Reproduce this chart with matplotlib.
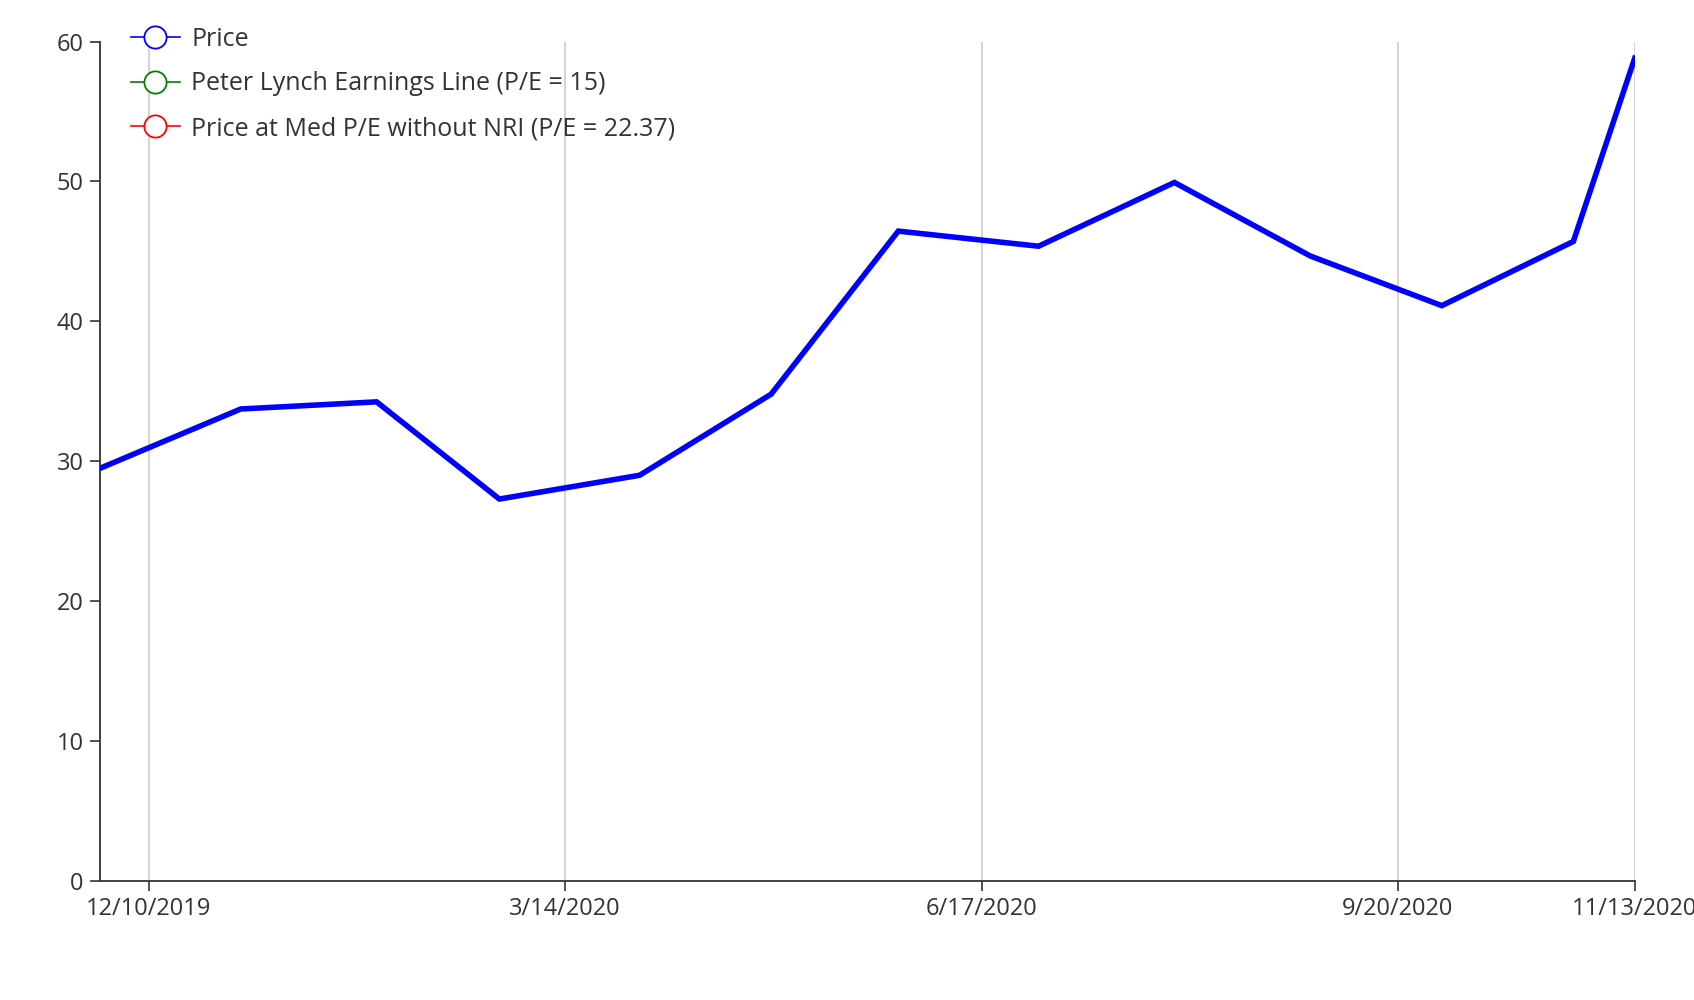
import datetime as dt
import matplotlib
matplotlib.use("Agg")
import matplotlib.pyplot as plt

# month-end closing prices
dates = ["2019-11-29", "2019-12-31", "2020-01-31", "2020-02-28", "2020-03-31",
         "2020-04-30", "2020-05-29", "2020-06-30", "2020-07-31", "2020-08-31",
         "2020-09-30", "2020-10-30", "2020-11-13"]
price = [29.49, 33.72, 34.23, 27.28, 28.98, 34.78, 46.44, 45.36, 49.92,
         44.66, 41.11, 45.7, 58.8]

# these two series are empty in the source chart
lynch_dates, lynch_values = [], []
med_pe_dates, med_pe_values = [], []

tick_dates = ["2019-12-10", "2020-03-14", "2020-06-17", "2020-09-20", "2020-11-13"]

labels = ["Price", "Peter Lynch Earnings Line (P/E = 15)",
          "Price at Med P/E without NRI (P/E = 22.37)"]
colors = ["#0000ff", "#008000", "#ff0000"]

to_dt = lambda s: dt.datetime.strptime(s, "%Y-%m-%d")

plt.rcParams['font.family'] = ['Open Sans', 'DejaVu Sans']
fig = plt.figure(figsize=(16.94, 10.0), dpi=100)
ax = fig.add_axes([0.0593, 0.1195, 0.9057, 0.839])

x = [to_dt(d) for d in dates]
ax.plot(x, price, color=colors[0], lw=4.0, solid_joinstyle='miter', zorder=3)

# legend handles (hollow circles on a short line)
series = [(x, price), (lynch_dates, lynch_values), (med_pe_dates, med_pe_values)]
handles = []
for (sx, sy), lab, c in zip(series, labels, colors):
    h, = ax.plot([], [], color=c, lw=1.2, marker='o', markersize=16,
                 markerfacecolor='white', markeredgecolor=c, markeredgewidth=1.3,
                 label=lab)
    handles.append(h)

ax.set_xlim(to_dt(dates[0]), to_dt(dates[-1]))
ax.set_ylim(0, 60)
ax.set_yticks(range(0, 61, 10))

ticks = [to_dt(d) for d in tick_dates]
ax.set_xticks(ticks)
ax.set_xticklabels([f"{d.month}/{d.day}/{d.year}" for d in ticks])

ax.xaxis.grid(True, color='#cccccc', lw=1.2)
ax.yaxis.grid(False)
ax.set_axisbelow(True)

for s in ['top', 'right']:
    ax.spines[s].set_visible(False)
for s in ['left', 'bottom']:
    ax.spines[s].set_color('#333333')
    ax.spines[s].set_linewidth(1.3)

ax.tick_params(axis='both', colors='#333333', labelsize=17, length=7, width=1.2)
ax.tick_params(axis='y', pad=5)
ax.tick_params(axis='x', pad=5)

fig.legend(handles=handles, loc='upper left', bbox_to_anchor=(0.0714, 0.983),
           frameon=False, fontsize=18, handlelength=1.96, handletextpad=0.45,
           labelspacing=0.78, labelcolor='#333333', borderaxespad=0)

plt.savefig("out.png", dpi=100)
